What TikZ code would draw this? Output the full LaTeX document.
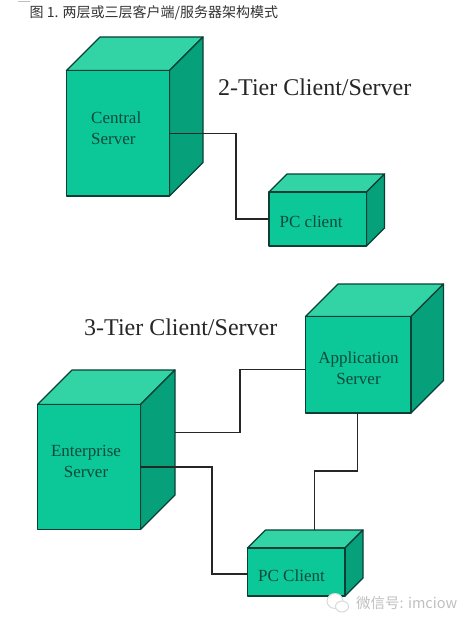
\documentclass[tikz,border=0pt]{standalone}
\usepackage{fontspec}
\setmainfont{Liberation Serif}
\newfontfamily\cjk{Noto Sans CJK SC}
\definecolor{frontgreen}{HTML}{0CC798}
\definecolor{topgreen}{HTML}{32D4A6}
\definecolor{sidegreen}{HTML}{06A17B}
\definecolor{edgegreen}{HTML}{0B3F35}
\definecolor{labelgreen}{HTML}{0C4A3C}
\begin{document}
\begin{tikzpicture}[
    x=1pt, y=-1pt,
    boxedge/.style={draw=edgegreen, line width=1.2pt, line join=round},
    frontface/.style={boxedge, fill=frontgreen, inner sep=0pt, outer sep=0pt},
    wire/.style={draw=black!85, line width=1.2pt},
    boxlabel/.style={font=\fontsize{17}{21.5}\selectfont, text=labelgreen, inner sep=0pt},
    tiertitle/.style={font=\fontsize{24}{28}\selectfont, text=black!85, anchor=west, inner sep=0pt},
    wechat/.style={draw=black!15, line width=1pt, fill=white},
]
\useasboundingbox (0, 0) rectangle (473, 626);

% ---- 标题 ----
\draw[black!25] (18, 1.5) -- (30, 1.5);
\node[font=\cjk\fontsize{14}{16}\selectfont, text=black!80, anchor=west, inner sep=0pt] (figtitle) at (29.5, 13) {图 1. 两层或三层客户端/服务器架构模式};

% ---- 立方体 ----
\foreach \bname/\bx/\by/\bw/\bh/\bd in {
    central/66.5/70.5/103/125.5/33.5,
    pcone/269/192/97.5/54/18,
    enterprise/37.5/404.5/103/125/34.5,
    application/305.5/316.5/105.5/96.5/32.5,
    pctwo/247.5/548/97.5/48/18
} {
    \draw[boxedge, fill=topgreen] (\bx, \by) -- ++(\bd, -\bd) -- ++(\bw, 0) -- ++(-\bd, \bd) -- cycle;
    \draw[boxedge, fill=sidegreen] (\bx+\bw, \by) -- ++(\bd, -\bd) -- ++(0, \bh) -- ++(-\bd, \bd) -- cycle;
    \node[frontface, minimum width=\bw pt, minimum height=\bh pt] (\bname) at (\bx+\bw/2, \by+\bh/2) {};
}

% ---- 连线上的折点 ----
\coordinate (entup) at (175, 432.5);
\coordinate (appleft) at (305.5, 369.5);
\coordinate (appdown) at (357.5, 413);
\coordinate (pctop) at (314.5, 530);
\coordinate (pcleft) at (247.5, 574);

% ---- 连线 ----
\draw[wire] (central.east) -| (236, 175) |- (pcone.west);
\draw[wire] (entup) -| (240, 400) |- (appleft);
\draw[wire] (appdown) |- (335, 471) -| (pctop);
\draw[wire] (enterprise.east) -| (212, 520) |- (pcleft);

% ---- 文字 ----
\node[tiertitle] (twotier) at (218, 87) {2-Tier Client/Server};
\node[tiertitle] (threetier) at (84, 327) {3-Tier Client/Server};
\node[boxlabel, anchor=west, align=left] (centraltext) at (91, 128) {Central\\Server};
\node[boxlabel, anchor=west] (pconetext) at (279.5, 221.5) {PC client};
\node[boxlabel, align=center] (enttext) at (86, 461.5) {Enterprise\\Server};
\node[boxlabel, align=center] (apptext) at (358.5, 368) {Application\\Server};
\node[boxlabel, anchor=west] (pctwotext) at (258, 576) {PC Client};

% ---- 水印 ----
\draw[wechat] (335, 601) ellipse (8 and 7.5);
\draw[wechat] (342, 606.5) ellipse (6.5 and 5.5);
\node[font=\cjk\fontsize{14.5}{16}\selectfont, text=black!25, anchor=west, inner sep=0pt] (marktext) at (356, 603) {微信号: imciow};

\end{tikzpicture}
\end{document}
